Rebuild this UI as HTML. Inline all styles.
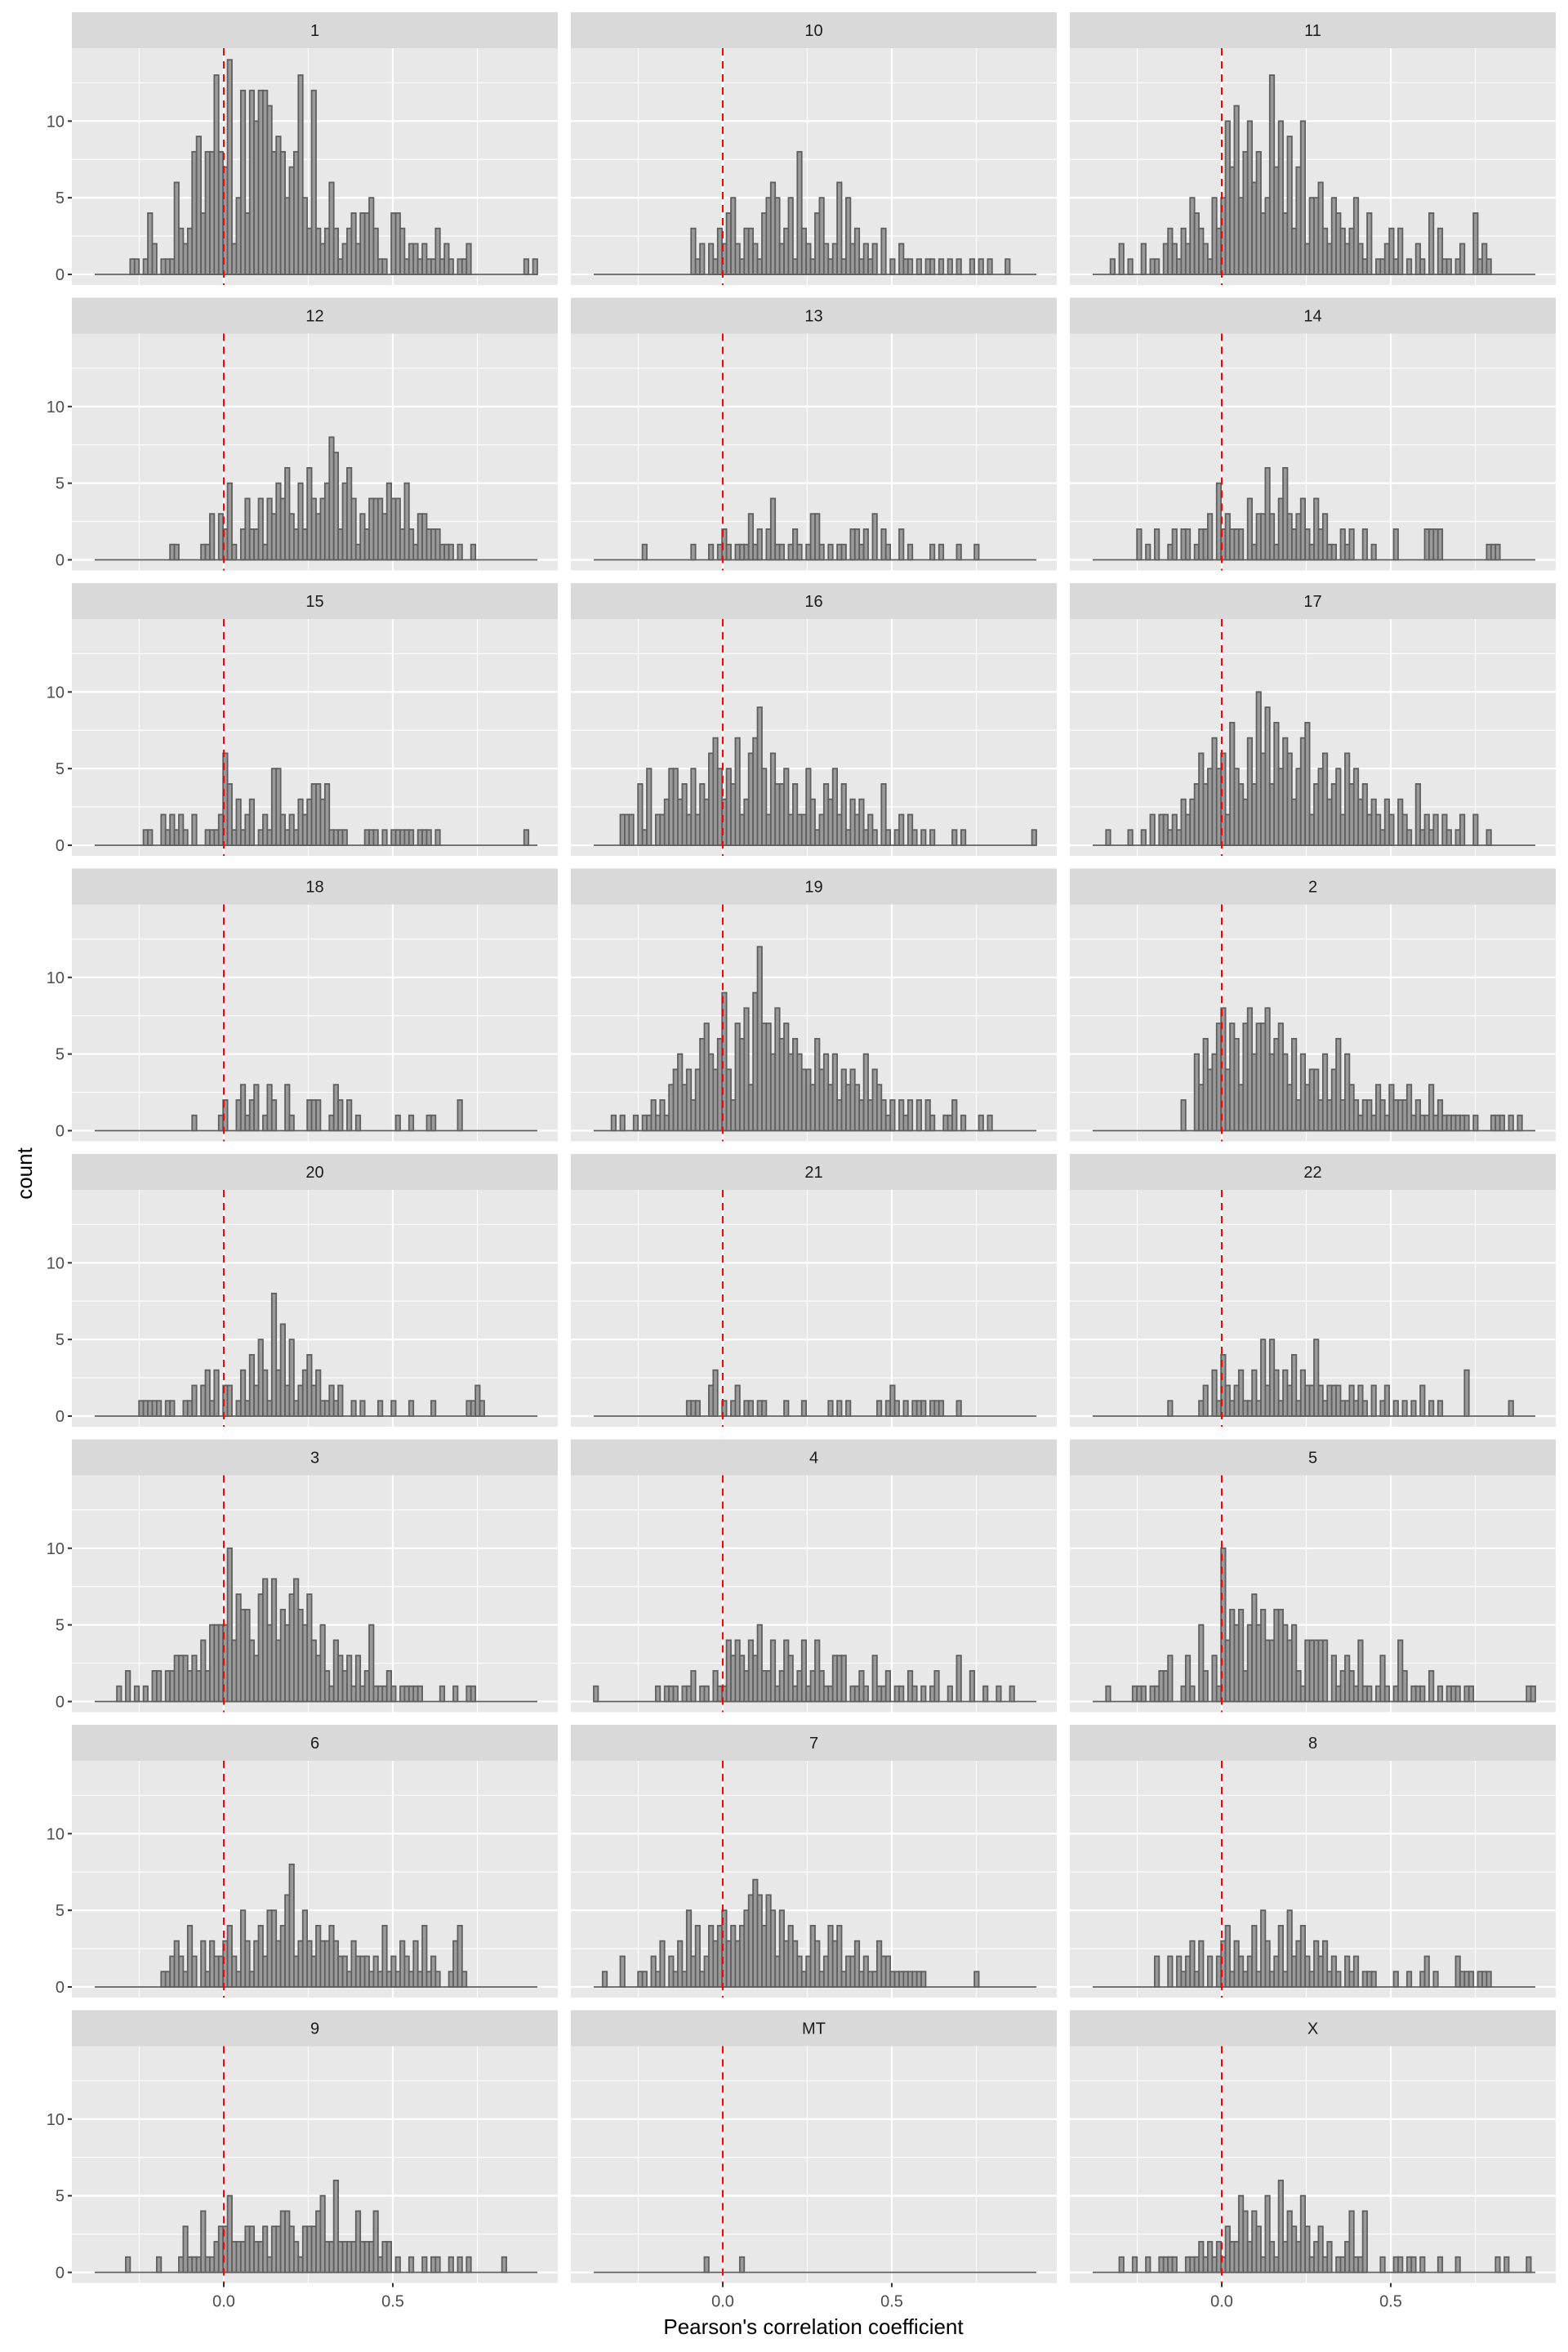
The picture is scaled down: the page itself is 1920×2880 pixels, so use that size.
<!DOCTYPE html>
<html><head><meta charset="utf-8">
<style>
html,body{margin:0;padding:0;background:#fff;}
svg{display:block;}
text{font-family:"Liberation Sans",Arial,sans-serif;}
</style></head>
<body>
<svg id="s" xmlns="http://www.w3.org/2000/svg" width="1920" height="2880" viewBox="0 0 1920 2880"></svg>
<script>
var D={
"1":"00000000"+"1101420111"+"632389488d"+"87e25c4cac"+"cb898578d5"+"3c32363123"+"4244531104"+"4312212113"+"1210112000"+"000000000101",
"10":"0000000000000000000000"+"3120213245"+"2133214565"+"2351832145"+"2126152312"+"1203010211"+"0101101010"+"1001010100"+"01000000",
"11":"0000102010"+"0201102321"+"3254321535"+"a7b58a6845"+"d7a4937a25"+"5632543235"+"2140112313"+"0102104031"+"1012004121"+"0000000000",
"12":"0000000000"+"0000000110"+"0000113032"+"5102422414"+"3546325264"+"3458725641"+"3244435442"+"5213322211"+"1010010000"+"0000000000",
"13":"0000000000"+"0100000000"+"0010001012"+"1011131202"+"4110121013"+"3101011022"+"1203021002"+"0100001010"+"0010001000"+"0000000000",
"14":"0000000000"+"2010200120"+"2201223052"+"3222041336"+"3146323421"+"4231102120"+"0201000020"+"0000022220"+"0000000001"+"1100000000",
"15":"0000000000"+"0110021212"+"1020011126"+"4131230121"+"5521213234"+"4341111000"+"0111010111"+"1101110100"+"0000000000"+"0000000100",
"16":"0000002220"+"4150223553"+"4252436753"+"5472367952"+"6445242253"+"1243524132"+"3121041012"+"0210101000"+"0101000000"+"0000000001",
"17":"0001000010"+"0102022121"+"3234645756"+"2854374a69"+"4857635782"+"4563452645"+"3423213203"+"2104121202"+"1012002001"+"0000000000",
"18":"0000000000"+"0000000000"+"0010000012"+"0023123013"+"2003100022"+"2001320201"+"0000000010"+"0100011000"+"0020000000"+"0000000000",
"19":"0000101001"+"0112121345"+"3424675469"+"4276839c77"+"5867565443"+"6453524343"+"2524321202"+"1202021001"+"1201000101"+"0000000000",
"2":"0000000000"+"0000000000"+"2005364578"+"4763785778"+"5675362534"+"4252462532"+"1221321322"+"2312113121"+"1111101000"+"1110101000",
"20":"0000000000"+"1111101100"+"1120231302"+"2013142531"+"8362512342"+"3112120010"+"1000100100"+"0100001000"+"0000112100"+"0000000000",
"21":"0000000000"+"0000000000"+"0111002301"+"0120110110"+"0001000100"+"0001010100"+"0000101210"+"1011101110"+"0010000000"+"0000000000",
"22":"0000000000"+"0000000100"+"0000120314"+"2123113152"+"5313241322"+"5212221121"+"2102012010"+"1010201010"+"0000300000"+"0000100000",
"3":"0000010201"+"0102202233"+"3232425555"+"a476643785"+"8465786574"+"3521432313"+"1251112101"+"1111000010"+"0100110000"+"0000000000",
"4":"1000000000"+"0000101110"+"1120110211"+"4343243522"+"4124312412"+"4211333011"+"2103112011"+"0210101200"+"1030020010"+"0100100000",
"5":"0001000001"+"1101122300"+"131052031a"+"4656257564"+"4665452144"+"4440312321"+"4110131014"+"2011102010"+"1110110000"+"0000000011",
"6":"0000000000"+"0000011232"+"1420313223"+"4215313425"+"5346823532"+"4334322132"+"2212141213"+"2131412100"+"1341000000"+"0000000000",
"7":"0010002000"+"1102130213"+"1524124345"+"3434567646"+"5253432124"+"3124341223"+"1211322111"+"1111100000"+"0000001000"+"0000000000",
"8":"0000000000"+"0000200202"+"1231302023"+"4132124153"+"1241523421"+"3231210212"+"0111000010"+"0100120100"+"0021110111"+"0000000000",
"9":"0000000100"+"0000100001"+"3111411233"+"5222332231"+"3344321333"+"4522622224"+"2224122010"+"0100101100"+"1010100000"+"0010000000",
"MT":"0000000000"+"0000000000"+"0000010000"+"0001000000"+"0000000000"+"0000000000"+"0000000000"+"0000000000"+"0000000000"+"0000000000",
"X":"0000001001"+"0010011110"+"0111212121"+"3225424315"+"2162432531"+"2312011241"+"1400010011"+"0110100010"+"0010000000"+"0101000010"
};
var order=["1","10","11","12","13","14","15","16","17","18","19","2","20","21","22","3","4","5","6","7","8","9","MT","X"];
var cols=[88,699,1310],W=595,PH=290,SH=44,PER=349.5,PX=18.77;
var h='';
function xv(l,v){return l+186+414*v;}
for(var k=0;k<24;k++){
 var r=Math.floor(k/3),c=k%3,L=cols[c],T=15+r*PER,PT=T+SH,Y0=PT+277;
 h+='<rect x="'+L+'" y="'+T+'" width="'+W+'" height="'+SH+'" fill="#d9d9d9"/>';
 h+='<text x="'+(L+W/2)+'" y="'+(T+29)+'" font-size="20" fill="#1a1a1a" text-anchor="middle">'+order[k]+'</text>';
 h+='<rect x="'+L+'" y="'+PT+'" width="'+W+'" height="'+PH+'" fill="#e8e8e8"/>';
 [2.5,7.5,12.5].forEach(function(v){var y=Y0-PX*v;h+='<line x1="'+L+'" x2="'+(L+W)+'" y1="'+y+'" y2="'+y+'" stroke="#fff" stroke-width="1.1"/>';});
 [-0.25,0.25,0.75].forEach(function(v){var x=xv(L,v);h+='<line x1="'+x+'" x2="'+x+'" y1="'+PT+'" y2="'+(PT+PH)+'" stroke="#fff" stroke-width="1.1"/>';});
 [0,5,10].forEach(function(v){var y=Y0-PX*v;h+='<line x1="'+L+'" x2="'+(L+W)+'" y1="'+y+'" y2="'+y+'" stroke="#fff" stroke-width="2.2"/>';});
 [0,0.5].forEach(function(v){var x=xv(L,v);h+='<line x1="'+x+'" x2="'+x+'" y1="'+PT+'" y2="'+(PT+PH)+'" stroke="#fff" stroke-width="2.2"/>';});
 var s=D[order[k]];
 h+='<line x1="'+(L+28)+'" x2="'+(L+570)+'" y1="'+Y0+'" y2="'+Y0+'" stroke="#5f5f5f" stroke-width="1.8"/>';
 for(var i=0;i<100;i++){
  var n=parseInt(s.charAt(i),16);if(!n)continue;
  var bx=L+28+5.42*i,bh=n*PX;
  h+='<rect x="'+bx.toFixed(2)+'" y="'+(Y0-bh).toFixed(2)+'" width="5.42" height="'+bh.toFixed(2)+'" fill="#9a9a9a" stroke="#5f5f5f" stroke-width="1.8"/>';
 }
 var zx=xv(L,0);
 h+='<line x1="'+zx+'" x2="'+zx+'" y1="'+PT+'" y2="'+(PT+PH)+'" stroke="#ff0000" stroke-width="2" stroke-dasharray="9,7"/>';
 if(c==0){
  [0,5,10].forEach(function(v){var y=Y0-PX*v;
   h+='<line x1="'+(L-5)+'" x2="'+L+'" y1="'+y+'" y2="'+y+'" stroke="#333" stroke-width="2"/>';
   h+='<text x="'+(L-9)+'" y="'+(y+7)+'" font-size="20" fill="#4d4d4d" text-anchor="end">'+v+'</text>';});
 }
 if(r==7){
  [[0,"0.0"],[0.5,"0.5"]].forEach(function(p){var x=xv(L,p[0]);
   h+='<line x1="'+x+'" x2="'+x+'" y1="'+(PT+PH)+'" y2="'+(PT+PH+5)+'" stroke="#333" stroke-width="2"/>';
   h+='<text x="'+x+'" y="'+(PT+PH+29)+'" font-size="20" fill="#4d4d4d" text-anchor="middle">'+p[1]+'</text>';});
 }
}
h+='<text x="996" y="2858" font-size="26" fill="#000" text-anchor="middle">Pearson\'s correlation coefficient</text>';
h+='<text transform="translate(39,1437) rotate(-90)" font-size="26" fill="#000" text-anchor="middle">count</text>';
document.getElementById('s').innerHTML=h;
</script>
</body></html>
